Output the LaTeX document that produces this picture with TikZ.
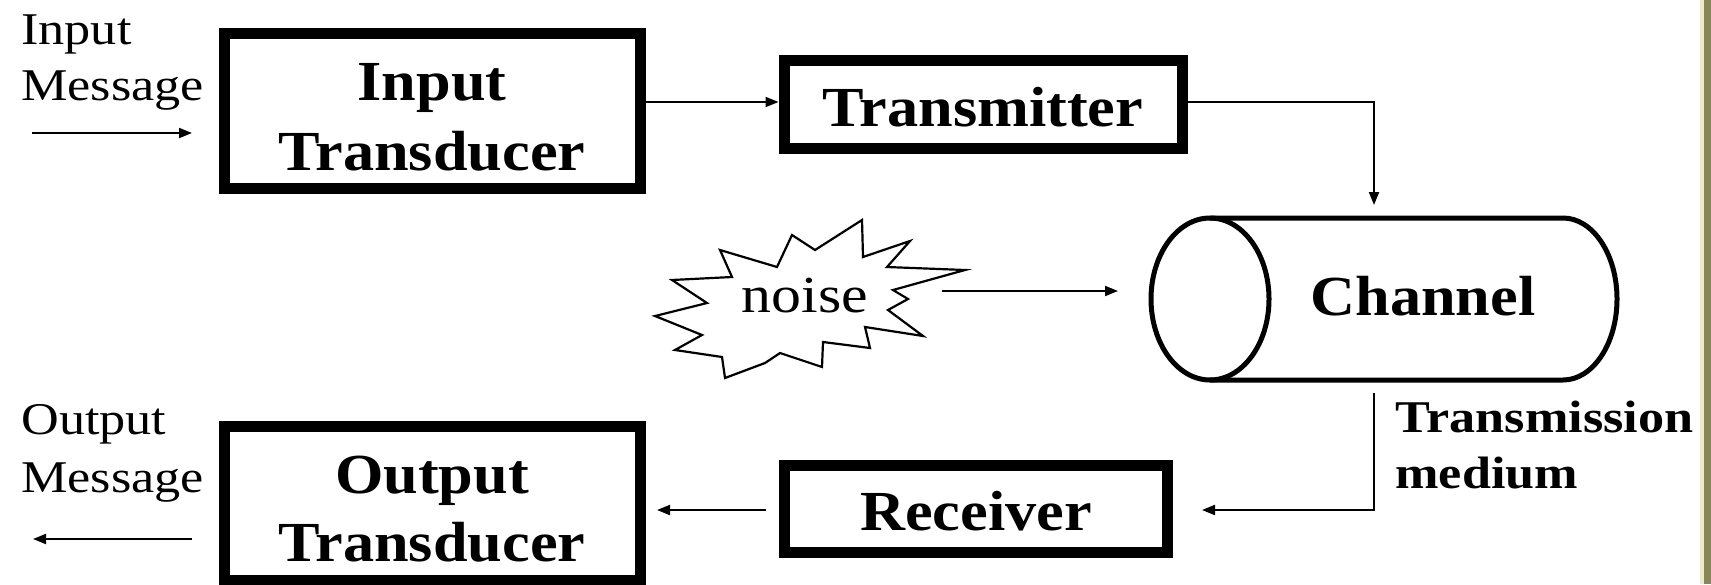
\documentclass[tikz,border=0pt]{standalone}
\usepackage{fontspec}
\setmainfont{Liberation Serif}
\newfontfamily\rmS[FakeStretch=1.15]{Liberation Serif}
\newfontfamily\bfS[FakeStretch=1.1]{Liberation Serif}
\usetikzlibrary{arrows.meta}
\definecolor{olivebar}{RGB}{135,135,90}
\definecolor{olivelight}{RGB}{236,236,205}
\begin{document}
\begin{tikzpicture}[x=0.5pt,y=-0.5pt,
  blk/.style={draw=black, line width=5.5pt, inner sep=0pt},
  bl/.style={font=\bfS\bfseries\fontsize{28.3}{35}\selectfont, inner sep=0pt, anchor=base},
  sl/.style={font=\rmS\fontsize{22.7}{28}\selectfont, inner sep=0pt, anchor=base west},
  tl/.style={font=\rmS\bfseries\fontsize{22.7}{28}\selectfont, inner sep=0pt, anchor=base west},
  arr/.style={line width=1pt, -{Triangle[length=6.5pt,width=5pt]}},
  cyl/.style={line width=2.5pt},
  burst/.style={line width=1.1pt, line join=miter}]
\fill[white] (0,0) rectangle (1711,584);
\fill[olivelight] (1700,0) rectangle (1704,584);
\fill[olivebar] (1704,0) rectangle (1711,584);
\useasboundingbox (0,0) rectangle (1711,584);

% boxes
\node[blk, minimum width=208pt, minimum height=77.5pt] (itd) at (432,110.5) {};
\node[blk, minimum width=199pt, minimum height=44pt] (tx) at (983,104) {};
\node[blk, minimum width=191.5pt, minimum height=43.5pt] (rx) at (975.5,508.5) {};
\node[blk, minimum width=208pt, minimum height=77pt] (otd) at (432,503) {};

% box texts
\node[bl] (itdA) at (432,100) {Input};
\node[bl] (itdB) at (432,170) {Transducer};
\node[bl] (txT) at (983,126) {Transmitter};
\node[bl] (rxT) at (976,530) {Receiver};
\node[bl] (otdA) at (432,493) {Output};
\node[bl] (otdB) at (432,561) {Transducer};

% side labels
\node[sl] (inA) at (21,44) {Input};
\node[sl] (inB) at (21,100) {Message};
\node[sl] (outA) at (21,434) {Output};
\node[sl] (outB) at (21,492) {Message};
\node[tl] (tmA) at (1395,432) {Transmission};
\node[tl] (tmB) at (1395,488) {medium};

% channel cylinder
\draw[cyl] (1210,218) -- (1563,218) arc[start angle=-90, end angle=90, x radius=54, y radius=81] -- (1210,380);
\draw[cyl] (1210,299) ellipse[x radius=59, y radius=81];
\node[bl] (chT) at (1423,315) {Channel};

% noise burst
\draw[burst] (862,220) -- (863,257) -- (910,241) -- (887,267) -- (965,270) -- (893,290)
  -- (908,299) -- (888,310) -- (923,336) -- (865,327) -- (870,348) -- (823,342)
  -- (822,367) -- (780,353) -- (765,363) -- (725,378) -- (722,357) -- (675,350)
  -- (702,335) -- (655,316) -- (707,303) -- (672,280) -- (732,277) -- (720,250)
  -- (777,267) -- (792,235) -- (815,250) -- cycle;
\node[font=\rmS\fontsize{26}{30}\selectfont, inner sep=0pt, anchor=base] (nzT) at (805,312) {noise};

% connector ends
\coordinate (inS) at (32,133);
\coordinate (inE) at (192,133);
\coordinate (outS) at (192,539);
\coordinate (outE) at (33,539);
\coordinate (chIn) at (1374,205);
\coordinate (chOut) at (1374,393);
\coordinate (rxIn) at (1202,510);
\coordinate (rxOut) at (766,510);
\coordinate (otdIn) at (657,510);
\coordinate (nzOut) at (942,291);
\coordinate (chNz) at (1118,291);

% connectors
\draw[arr] (inS) -- (inE);
\draw[arr] ([yshift=1pt]itd.east |- tx.west) -- ([yshift=1pt]tx.west);
\draw[arr] ([yshift=1pt]tx.east) -| (chIn);
\draw[arr] (nzOut) -- (chNz);
\draw[arr] (chOut) |- (rxIn);
\draw[arr] (rxOut) -- (otdIn);
\draw[arr] (outS) -- (outE);
\end{tikzpicture}
\end{document}
